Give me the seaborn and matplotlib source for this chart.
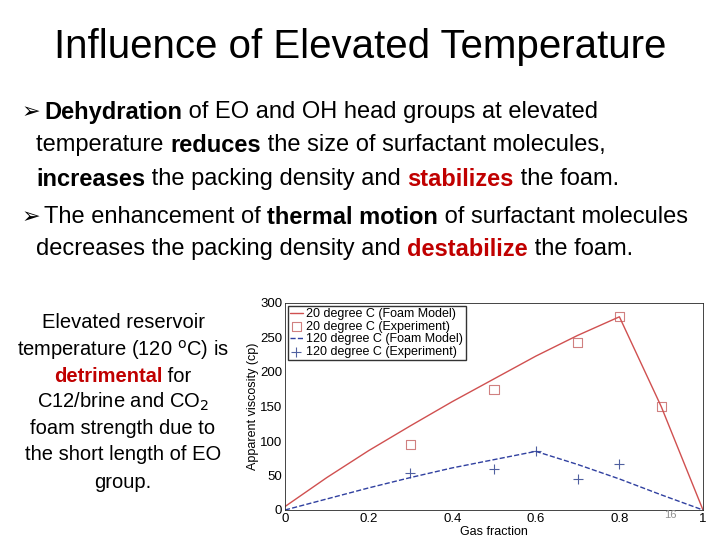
import numpy as np
import pandas as pd
import matplotlib
matplotlib.use('Agg')
import matplotlib.pyplot as plt
import seaborn as sns

sns.set_style('white')
plt.rcParams['font.family'] = ['Liberation Sans', 'DejaVu Sans']
plt.rcParams['text.color'] = 'black'
plt.rcParams['axes.labelcolor'] = 'black'
plt.rcParams['xtick.color'] = 'black'
plt.rcParams['ytick.color'] = 'black'

# model curves
gas_model = [0, 0.1, 0.2, 0.3, 0.4, 0.5, 0.6, 0.7, 0.8, 0.9, 1.0]
visc20_model = [5, 47, 86, 122, 157, 190, 223, 253, 280, 150, 0]
visc120_model = [0, 16, 32, 47, 61, 73, 85, 66, 45, 22, 0]
# experiments
gas20_exp = [0.3, 0.5, 0.7, 0.8, 0.9]
visc20_exp = [95, 175, 243, 280, 150]
gas120_exp = [0.3, 0.5, 0.6, 0.7, 0.8]
visc120_exp = [53, 60, 85, 45, 67]

fig = plt.figure(figsize=(7.2, 5.4), dpi=100)
W, H = 720, 540

fig.text(0.5, 1 - 47 / H, 'Influence of Elevated Temperature', ha='center', va='center', fontsize=29)

RED = '#C00000'
renderer = fig.canvas.get_renderer()


def runs(x, y, parts, size=17):
    # draw a line of text made of (text, bold, colour) runs
    for txt, bold, col in parts:
        t = fig.text(x / W, 1 - y / H, txt, fontsize=size, va='center',
                     fontweight='bold' if bold else 'normal', color=col)
        x += t.get_window_extent(renderer).width


fig.text(22 / W, 1 - 112 / H, '\u27a2', fontsize=16, va='center', family=['DejaVu Sans'])
runs(44, 112, [('Dehydration', True, 'black'), (' of EO and OH head groups at elevated', False, 'black')])
runs(36, 145, [('temperature ', False, 'black'), ('reduces', True, 'black'), (' the size of surfactant molecules,', False, 'black')])
runs(36, 179, [('increases', True, 'black'), (' the packing density and ', False, 'black'), ('stabilizes', True, RED), (' the foam.', False, 'black')])
fig.text(22 / W, 1 - 217 / H, '\u27a2', fontsize=16, va='center', family=['DejaVu Sans'])
runs(44, 217, [('The enhancement of ', False, 'black'), ('thermal motion', True, 'black'), (' of surfactant molecules', False, 'black')])
runs(36, 249, [('decreases the packing density and ', False, 'black'), ('destabilize', True, RED), (' the foam.', False, 'black')])

left = [('Elevated reservoir', None), ('temperature (120 $^{\\mathrm{o}}$C) is', None), ('detrimental', RED),
        ('C12/brine and CO$_2$', None), ('foam strength due to', None), ('the short length of EO', None), ('group.', None)]
ys = [323, 350, 376, 402, 428, 455, 482]
for (txt, col), yy in zip(left, ys):
    if col:
        runs(54, yy, [('detrimental', True, RED), (' for', False, 'black')], size=14.5)
    else:
        fig.text(123 / W, 1 - yy / H, txt, fontsize=14.5, ha='center', va='center')

ax = fig.add_axes([285 / W, 1 - 510 / H, 418 / W, 207 / H])
sns.lineplot(x=gas_model, y=visc20_model, ax=ax, color='#d05050', lw=1, label='20 degree C (Foam Model)')
sns.scatterplot(x=gas20_exp, y=visc20_exp, ax=ax, marker='s', s=45, facecolor='none', edgecolor='#d08080',
                linewidth=0.8, label='20 degree C (Experiment)')
sns.lineplot(x=gas_model, y=visc120_model, ax=ax, color='#3040a0', lw=1, ls='--', label='120 degree C (Foam Model)')
sns.scatterplot(x=gas120_exp, y=visc120_exp, ax=ax, marker='+', s=60, color='#5060a0', linewidth=0.8,
                label='120 degree C (Experiment)')
ax.set_xlim(0, 1)
ax.set_ylim(0, 300)
ax.set_xticks([0, 0.2, 0.4, 0.6, 0.8, 1])
ax.set_xticklabels(['0', '0.2', '0.4', '0.6', '0.8', '1'])
ax.set_yticks(range(0, 301, 50))
ax.tick_params(labelsize=9.5, direction='in', length=3, pad=2)
ax.set_xlabel('Gas fraction', fontsize=9, labelpad=1)
ax.set_ylabel('Apparent viscosity (cp)', fontsize=9, labelpad=1)
for s in ax.spines.values():
    s.set_linewidth(0.6)
ax.legend(loc='upper left', fontsize=9, frameon=True, fancybox=False, edgecolor='black',
          borderpad=0.2, handlelength=1.0, handletextpad=0.3, labelspacing=0.05, borderaxespad=0.2)
fig.text(670 / W, 1 - 515 / H, '16', fontsize=8, color='#909090', ha='center', va='center')

fig.savefig('out.png', dpi=100)
